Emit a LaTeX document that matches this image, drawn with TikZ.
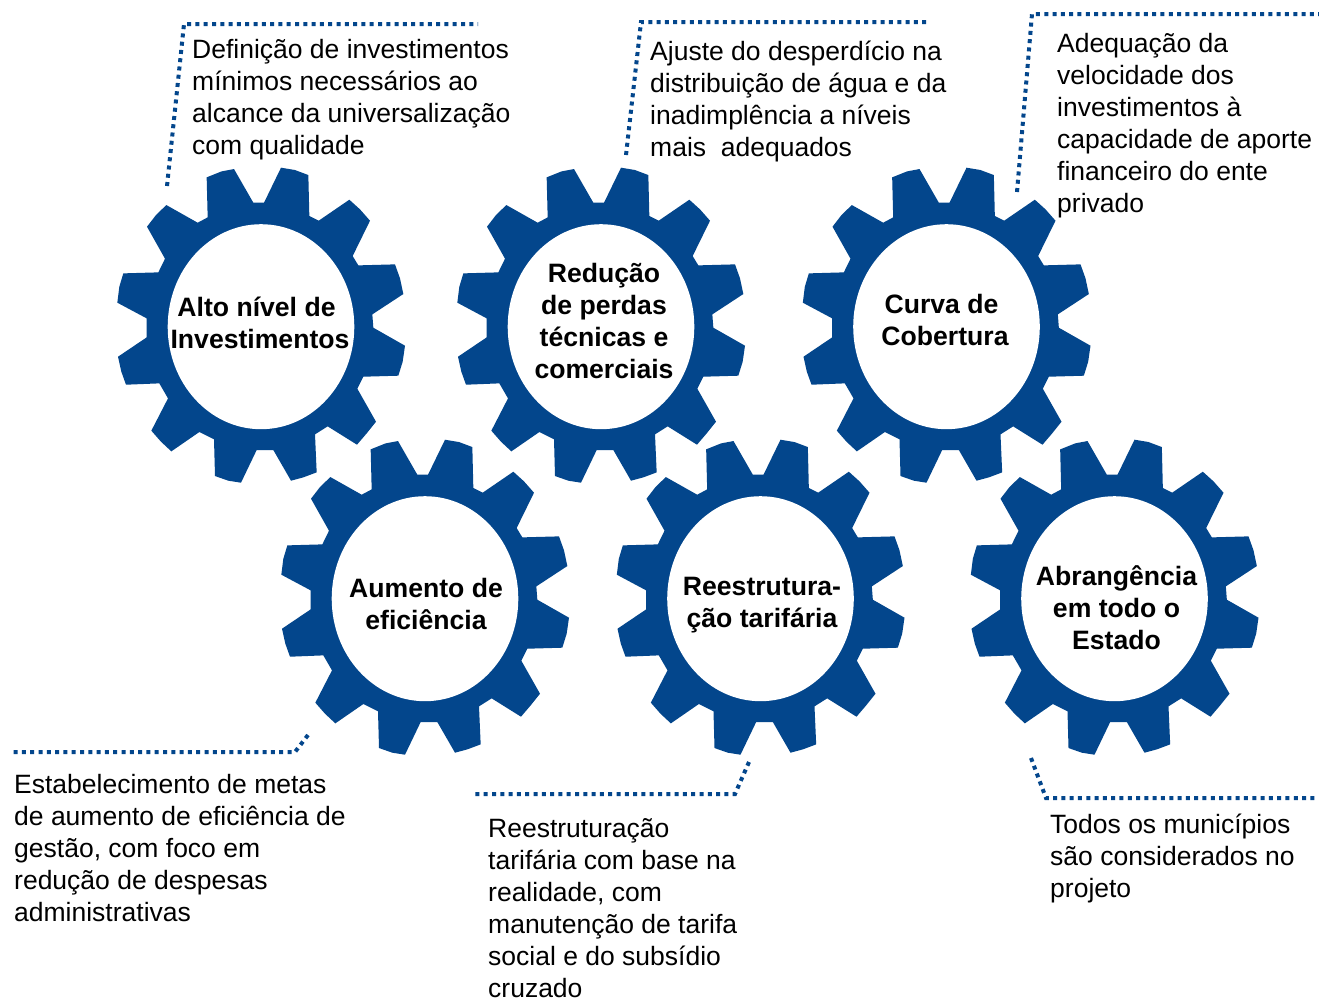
\documentclass[tikz,border=0pt]{standalone}
\usepackage{fontspec}
\setmainfont{Liberation Sans}
\usetikzlibrary{shapes.geometric}
\definecolor{gearblue}{HTML}{03468C}
\newcommand{\gearoutline}{(320,82)--(365,64)--(402,57)--(460,158)--(492,158)--(543,53)--(585,60)--(625,75)--(628,198)--(656,212)--(748,149)--(780,178)--(810,212)--(758,318)--(775,346)--(885,343)--(900,385)--(910,432)--(817,493)--(820,533)--(915,587)--(908,635)--(895,677)--(790,680)--(772,716)--(828,815)--(800,850)--(771,884)--(683,829)--(645,853)--(650,967)--(610,982)--(573,992)--(520,900)--(470,900)--(423,998)--(385,992)--(345,978)--(342,868)--(298,846)--(214,904)--(183,875)--(154,842)--(204,745)--(178,700)--(78,704)--(64,665)--(54,620)--(140,562)--(140,505)--(52,458)--(58,410)--(70,370)--(175,367)--(195,326)--(141,230)--(168,195)--(199,165)--(293,218)--(323,202)--cycle}
\newcommand{\drawgear}[3]{%
  \fill[gearblue,shift={(#2,#3)},scale=1/3,shift={(-483,-530)}] \gearoutline;
  \node[gearhole] (#1) at (#2,#3) {};}
\tikzset{
  gearhole/.style={ellipse,fill=white,draw=none,inner sep=0pt,minimum width=186.6pt,minimum height=205pt},
  gearlabel/.style={font=\fontsize{26.6}{32}\selectfont\bfseries,align=center,inner sep=0pt,text=black},
  notetext/.style={font=\fontsize{26.5}{32}\selectfont,align=left,anchor=west,inner sep=0pt,text=black},
  leader/.style={draw=gearblue,line width=4pt,dash pattern=on 4pt off 4.3pt}
}
\begin{document}
\begin{tikzpicture}[x=1pt,y=-1pt]
\useasboundingbox (0,0) rectangle (1319,999);
\fill[white] (0,0) rectangle (1319,999);
\drawgear{g1}{261}{326.7}
\drawgear{g2}{601}{326.7}
\drawgear{g3}{946.5}{326.7}
\drawgear{g4}{425}{598.7}
\drawgear{g5}{760.5}{598.7}
\drawgear{g6}{1114.5}{598.7}
\node[gearlabel] (l1) at (260,323) {Alto nível de\kern7pt\\Investimentos};
\node[gearlabel] (l2) at (604,321) {Redução\\de perdas\\técnicas e\\comerciais};
\node[gearlabel] (l3) at (945,320) {Curva de\kern7pt\\Cobertura};
\node[gearlabel] (l4) at (426,604) {Aumento de\\eficiência};
\node[gearlabel] (l5) at (762,605) {Reestrutura-\\ção tarifária};
\node[gearlabel] (l6) at (1116.5,608) {Abrangência\\em todo o\\Estado};
\node[notetext] (n1) at (192,100) {Definição de investimentos\\mínimos necessários ao\\alcance da universalização\\com qualidade};
\node[notetext] (n2) at (650,101) {Ajuste do desperdício na\\distribuição de água e da\\inadimplência a níveis\\mais\ \ adequados};
\node[notetext] (n3) at (1057,126) {Adequação da\\velocidade dos\\investimentos à\\capacidade de aporte\\financeiro do ente\\privado};
\node[notetext] (n4) at (14,848) {Estabelecimento de metas\\de aumento de eficiência de\\gestão, com foco em\\redução de despesas\\administrativas};
\node[notetext] (n5) at (488,908) {Reestruturação\\tarifária com base na\\realidade, com\\manutenção de tarifa\\social e do subsídio\\cruzado};
\node[notetext] (n6) at (1050,858) {Todos os municípios\\são considerados no\\projeto};
\coordinate (a1) at (167,186); \coordinate (b1) at (184,24); \coordinate (c1) at (478,24);
\coordinate (a2) at (626,155); \coordinate (b2) at (641,22); \coordinate (c2) at (927,22);
\coordinate (a3) at (1017,192); \coordinate (b3) at (1032,14); \coordinate (c3) at (1319,14);
\coordinate (a4) at (308,735); \coordinate (b4) at (295,752); \coordinate (c4) at (13,752);
\coordinate (a5) at (749,762); \coordinate (b5) at (735,794); \coordinate (c5) at (475,794);
\coordinate (a6) at (1031,758); \coordinate (b6) at (1046,798); \coordinate (c6) at (1316,798);
\foreach \i in {1,...,6} \draw[leader] (a\i) -- (b\i) -- (c\i);
\end{tikzpicture}
\end{document}
